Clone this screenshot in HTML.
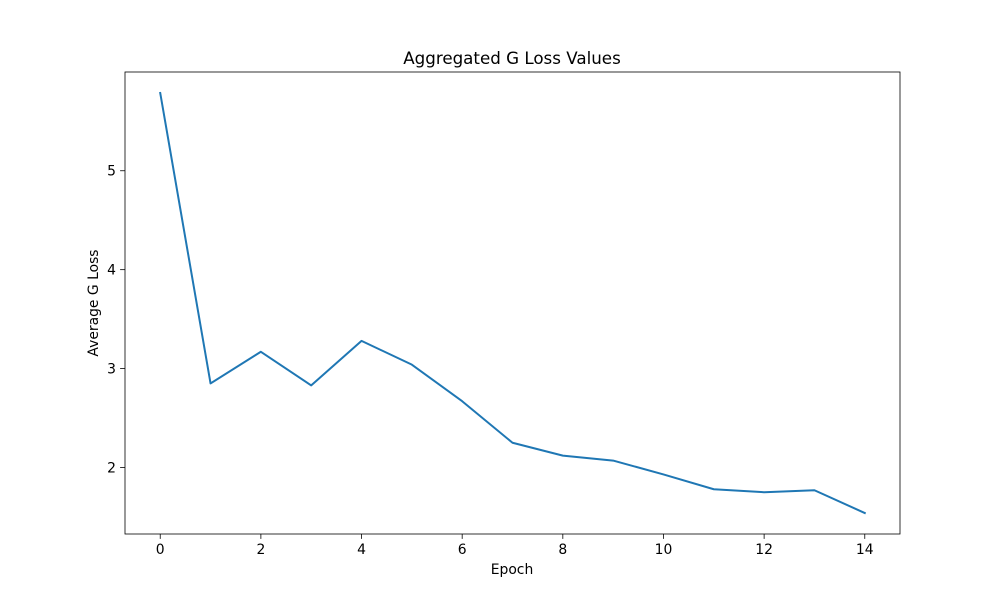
<!DOCTYPE html>
<html><head><meta charset="utf-8">
<style>
body{margin:0;background:#fff;}
svg{display:block;font-family:"DejaVu Sans","Liberation Sans",sans-serif;}
</style></head>
<body>
<svg id="chart" width="1000" height="600"></svg>
<script>
const epochs = [0,1,2,3,4,5,6,7,8,9,10,11,12,13,14];
const lossValues = [5.786,2.85,3.17,2.83,3.28,3.04,2.67,2.25,2.12,2.07,1.93,1.78,1.75,1.77,1.54];
const xTicks = [0,2,4,6,8,10,12,14];
const yTicks = [2,3,4,5];

const NS='http://www.w3.org/2000/svg';
const svg=document.getElementById('chart');
const L=125,R=900,T=72,B=534;
const xmin=Math.min(...epochs),xmax=Math.max(...epochs),xm=(xmax-xmin)*0.05;
const ymin=Math.min(...lossValues),ymax=Math.max(...lossValues),ym=(ymax-ymin)*0.05;
function sx(v){return L+(v-(xmin-xm))/((xmax+xm)-(xmin-xm))*(R-L);}
function sy(v){return B-(v-(ymin-ym))/((ymax+ym)-(ymin-ym))*(B-T);}
function mk(tag,attrs,text){const e=document.createElementNS(NS,tag);for(const k in attrs)e.setAttribute(k,attrs[k]);if(text!==undefined)e.textContent=text;svg.appendChild(e);return e;}

let e=mk('text',{x:512,y:64,'text-anchor':'middle','font-size':16.7,fill:'#000'},'Aggregated G Loss Values');



let pts=epochs.map((x,i)=>sx(x).toFixed(2)+','+sy(lossValues[i]).toFixed(2)).join(' ');
e=mk('polyline',{points:pts,fill:'none',stroke:'#1f77b4','stroke-width':2,'stroke-linejoin':'round','stroke-linecap':'square'});



e=mk('rect',{x:L,y:T,width:R-L,height:B-T,fill:'none',stroke:'#000','stroke-width':0.8});



xTicks.forEach(t=>{
  const x=sx(t);
  let l=mk('line',{x1:x,x2:x,y1:B,y2:B+4.9,stroke:'#000','stroke-width':0.8});
  
  
  let tx=mk('text',{x:x,y:B+20,'text-anchor':'middle','font-size':13.9,fill:'#000'},String(t));
  
  
});
yTicks.forEach(t=>{
  const y=sy(t);
  let l=mk('line',{x1:L-4.9,x2:L,y1:y,y2:y,stroke:'#000','stroke-width':0.8});
  
  
  let tx=mk('text',{x:L-9,y:y+5,'text-anchor':'end','font-size':13.9,fill:'#000'},String(t));
  
  
});

e=mk('text',{x:512,y:574,'text-anchor':'middle','font-size':13.9,fill:'#000'},'Epoch');


e=mk('text',{x:98,y:303,'text-anchor':'middle','font-size':13.9,fill:'#000',transform:'rotate(-90 98 303)'},'Average G Loss');


</script>
</body></html>
